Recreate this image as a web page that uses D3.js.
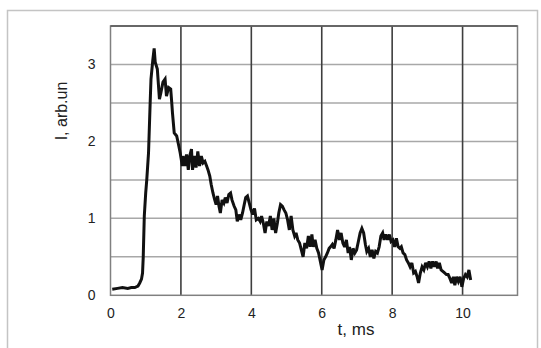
<!DOCTYPE html>
<html>
<head>
<meta charset="utf-8">
<script src="https://cdn.jsdelivr.net/npm/d3@7"></script>
<style>
  html, body { margin: 0; padding: 0; background: #fff; }
  svg { display: block; }
  text { font-family: "Liberation Sans", Arial, sans-serif; fill: #222; }
</style>
</head>
<body>
<svg id="chart" width="541" height="348"></svg>
<script>
// ---- data ----
const xTicks = [0, 2, 4, 6, 8, 10];
const yTicks = [0, 1, 2, 3];
const yGrid = [0.5, 1, 1.5, 2, 2.5, 3];
const xLabel = "t, ms";
const yLabel = "I, arb.un";

const tValues = [
  0.05,0.20,0.34,0.49,0.59,0.69,0.78,0.83,0.88,0.91,0.93,0.96,1.00,1.03,1.08,1.13,1.15,1.20,1.24,1.27,
  1.33,1.39,1.43,1.49,1.55,1.59,1.65,1.71,1.74,1.76,1.81,1.88,1.94,1.98,2.04,2.06,2.11,2.16,2.21,2.25,
  2.30,2.33,2.38,2.43,2.48,2.53,2.58,2.63,2.68,2.73,2.77,2.82,2.86,2.91,2.96,3.00,3.04,3.08,3.12,3.17,
  3.22,3.26,3.31,3.36,3.41,3.45,3.51,3.56,3.60,3.65,3.70,3.75,3.79,3.84,3.89,3.94,3.99,4.04,4.09,4.14,
  4.20,4.25,4.29,4.34,4.39,4.44,4.49,4.54,4.59,4.64,4.69,4.74,4.78,4.83,4.88,4.93,4.98,5.03,5.08,5.13,
  5.18,5.23,5.27,5.32,5.37,5.42,5.47,5.52,5.57,5.62,5.67,5.72,5.76,5.81,5.86,5.91,5.96,6.01,6.06,6.11,
  6.16,6.21,6.25,6.30,6.35,6.40,6.45,6.50,6.55,6.60,6.65,6.70,6.75,6.79,6.84,6.89,6.94,6.99,7.04,7.09,
  7.14,7.19,7.24,7.28,7.33,7.38,7.43,7.48,7.53,7.58,7.63,7.68,7.73,7.77,7.82,7.87,7.92,7.97,8.02,8.07,
  8.12,8.17,8.22,8.26,8.31,8.36,8.41,8.46,8.51,8.56,8.61,8.66,8.71,8.75,8.80,8.85,8.90,8.95,9.00,9.05,
  9.10,9.15,9.20,9.25,9.29,9.34,9.39,9.44,9.49,9.54,9.59,9.64,9.69,9.74,9.78,9.83,9.88,9.93,9.98,10.03,
  10.08,10.13,10.18,10.23
];
const iValues = [
  0.08,0.09,0.10,0.09,0.10,0.10,0.12,0.16,0.21,0.29,0.50,1.03,1.33,1.50,1.85,2.55,2.81,3.05,3.21,3.03,
  2.94,2.55,2.63,2.77,2.81,2.59,2.70,2.68,2.50,2.37,2.11,2.07,1.94,1.85,1.68,1.81,1.68,1.83,1.63,1.81,
  1.90,1.63,1.81,1.66,1.87,1.68,1.81,1.72,1.74,1.68,1.63,1.55,1.44,1.33,1.24,1.18,1.29,1.16,1.07,1.24,
  1.20,1.27,1.20,1.31,1.33,1.24,1.16,1.11,0.96,1.05,0.98,1.07,1.16,1.27,1.29,1.20,1.11,1.05,1.13,0.98,
  1.00,0.96,1.03,0.94,0.81,0.96,0.90,1.03,0.85,1.00,0.81,0.94,1.07,1.18,1.16,1.11,1.07,0.98,0.85,1.03,
  0.85,0.77,0.81,0.72,0.68,0.59,0.50,0.68,0.61,0.77,0.63,0.79,0.63,0.72,0.61,0.55,0.44,0.33,0.46,0.50,
  0.55,0.61,0.63,0.66,0.61,0.72,0.85,0.72,0.81,0.68,0.63,0.72,0.55,0.63,0.46,0.61,0.55,0.59,0.70,0.81,
  0.87,0.81,0.66,0.57,0.61,0.50,0.59,0.48,0.57,0.55,0.63,0.77,0.81,0.72,0.79,0.72,0.79,0.70,0.72,0.63,
  0.74,0.63,0.61,0.63,0.55,0.53,0.46,0.42,0.37,0.42,0.29,0.31,0.24,0.16,0.29,0.37,0.33,0.42,0.37,0.44,
  0.35,0.44,0.37,0.44,0.35,0.42,0.33,0.31,0.29,0.27,0.27,0.22,0.16,0.24,0.13,0.24,0.18,0.24,0.11,0.22,
  0.27,0.24,0.33,0.20
];

// ---- layout ----
const plot = { left: 110.5, right: 517.5, top: 26, bottom: 295.3 };
const xMax = 11.56, yMax = 3.5;

const svg = d3.select("#chart");

// outer frame
svg.append("rect")
  .attr("x", 7.5).attr("y", 10.5)
  .attr("width", 530).attr("height", 350)
  .attr("fill", "#fff").attr("stroke", "#c4c4c4").attr("stroke-width", 1.5);

const x = d3.scaleLinear().domain([0, xMax]).range([plot.left, plot.right]);
const y = d3.scaleLinear().domain([0, yMax]).range([plot.bottom, plot.top]);

// horizontal grid
svg.append("g").selectAll("line").data(yGrid).join("line")
  .attr("x1", plot.left).attr("x2", plot.right)
  .attr("y1", d => y(d)).attr("y2", d => y(d))
  .attr("stroke", "#a8a8a8").attr("stroke-width", 1.5);

// vertical grid
svg.append("g").selectAll("line").data(xTicks.filter(d => d > 0)).join("line")
  .attr("y1", plot.top).attr("y2", plot.bottom)
  .attr("x1", d => x(d)).attr("x2", d => x(d))
  .attr("stroke", "#3e3e3e").attr("stroke-width", 1.6);

// plot frame
svg.append("rect")
  .attr("x", plot.left).attr("y", plot.top)
  .attr("width", plot.right - plot.left).attr("height", plot.bottom - plot.top)
  .attr("fill", "none").attr("stroke", "#808080").attr("stroke-width", 1.5);
svg.append("line")
  .attr("x1", plot.left).attr("x2", plot.right)
  .attr("y1", plot.top).attr("y2", plot.top)
  .attr("stroke", "#555").attr("stroke-width", 1.5);

// tick labels via d3 axes (no domain / tick lines)
const xAxis = d3.axisBottom(x).tickValues(xTicks).tickSize(0).tickPadding(13).tickFormat(d3.format("d"));
const gx = svg.append("g").attr("transform", `translate(0,${plot.bottom})`).call(xAxis);
gx.select(".domain").remove();
gx.selectAll("text").attr("font-size", 14).attr("fill", "#222")
  .style("font-family", '"Liberation Sans", Arial, sans-serif');

const yAxis = d3.axisLeft(y).tickValues(yTicks).tickSize(0).tickPadding(15).tickFormat(d3.format("d"));
const gy = svg.append("g").attr("transform", `translate(${plot.left},0)`).call(yAxis);
gy.select(".domain").remove();
gy.selectAll("text").attr("font-size", 14).attr("fill", "#222")
  .style("font-family", '"Liberation Sans", Arial, sans-serif');

// axis titles
svg.append("text")
  .attr("x", 356).attr("y", 335)
  .attr("text-anchor", "middle").attr("font-size", 17)
  .text(xLabel);
svg.append("text")
  .attr("transform", "translate(67,111) rotate(-90)")
  .attr("text-anchor", "middle").attr("font-size", 16)
  .text(yLabel);

// trace
const data = tValues.map((t, i) => ({ t, v: iValues[i] }));
const line = d3.line().x(d => x(d.t)).y(d => y(d.v));
svg.append("path")
  .datum(data)
  .attr("d", line)
  .attr("fill", "none")
  .attr("stroke", "#111")
  .attr("stroke-width", 3)
  .attr("stroke-linejoin", "miter")
  .attr("stroke-miterlimit", 3);
</script>
</body>
</html>
